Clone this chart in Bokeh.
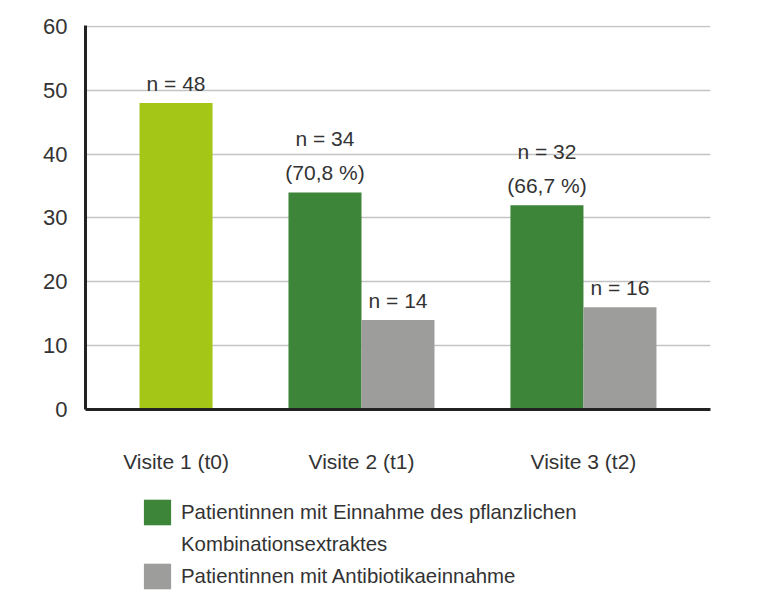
from bokeh.plotting import figure
from bokeh.layouts import column
from bokeh.models import FactorRange, ColumnDataSource, FixedTicker, Legend, LegendItem
from bokeh.core.properties import value
from bokeh.embed import file_html
from bokeh.resources import INLINE

# ---- data ----
visits = ["Visite 1 (t0)", "Visite 2 (t1)", "Visite 3 (t2)"]
extract_n = [48, 34, 32]
extract_pct = ["", "(70,8 %)", "(66,7 %)"]
antibiotic_visits = ["Visite 2 (t1)", "Visite 3 (t2)"]
antibiotic_n = [14, 16]
y_ticks = [0, 10, 20, 30, 40, 50, 60]
legend_lines_extract = ["Patientinnen mit Einnahme des pflanzlichen", "Kombinationsextraktes"]
legend_label_antibiotic = "Patientinnen mit Antibiotikaeinnahme"

# ---- styles ----
FONT = "Liberation Sans"
TEXT = "#333333"
LIME = "#a3c617"
GREEN = "#3d8538"
GREY = "#9d9d9c"
EXT, ANT = "ext", "ant"

factors = []
for v in visits:
    factors.append((v, EXT))
    if v in antibiotic_visits:
        factors.append((v, ANT))

p = figure(
    x_range=FactorRange(*factors, group_padding=1.04, range_padding=0.74,
                        range_padding_units="absolute"),
    y_range=(0, 60.15),
    width=751, height=490,
    output_backend="svg", toolbar_location=None,
    min_border_left=85, min_border_right=41, min_border_top=25, min_border_bottom=81,
)
p.outline_line_color = None
p.xgrid.grid_line_color = None
p.ygrid.grid_line_color = "#c4c4c4"
p.ygrid.grid_line_width = 1.5
p.ygrid.ticker = FixedTicker(ticks=y_ticks)

# y axis
p.yaxis.ticker = FixedTicker(ticks=y_ticks)
p.yaxis.axis_line_width = 3
p.yaxis.axis_line_color = "#222222"
p.yaxis.major_tick_line_color = None
p.yaxis.minor_tick_line_color = None
p.yaxis.major_tick_out = 0
p.yaxis.major_tick_in = 0
p.yaxis.major_label_standoff = 18
p.yaxis.major_label_text_font = FONT
p.yaxis.major_label_text_font_size = "22px"
p.yaxis.major_label_text_color = TEXT

# x axis
xa = p.xaxis[0]
xa.axis_line_width = 3
xa.axis_line_color = "#222222"
xa.major_tick_line_color = None
xa.major_tick_out = 0
xa.major_tick_in = 0
xa.major_label_text_alpha = 0
xa.major_label_text_font_size = "14px"
xa.major_label_standoff = 40
xa.separator_line_color = None
xa.group_text_font = FONT
xa.group_text_font_size = "21px"
xa.group_text_color = TEXT
xa.group_text_font_style = "normal"

# bars
base_src = ColumnDataSource(dict(x=[(visits[0], EXT)], top=extract_n[:1]))
ext_src = ColumnDataSource(dict(x=[(v, EXT) for v in visits[1:]], top=extract_n[1:]))
ant_src = ColumnDataSource(dict(x=[(v, ANT) for v in antibiotic_visits], top=antibiotic_n))

p.vbar(x="x", top="top", width=1.0, source=base_src, fill_color=LIME, line_color=None)
p.vbar(x="x", top="top", width=1.0, source=ext_src, fill_color=GREEN, line_color=None)
p.vbar(x="x", top="top", width=1.0, source=ant_src, fill_color=GREY, line_color=None)

# labels
ext_text = [f"n = {n}" + (f"\n{pct}" if pct else "") for n, pct in zip(extract_n, extract_pct)]
lab_src = ColumnDataSource(dict(
    x=[(v, EXT) for v in visits] + [(v, ANT) for v in antibiotic_visits],
    y=extract_n + antibiotic_n,
    text=ext_text + [f"n = {n}" for n in antibiotic_n],
))
p.text(x="x", y="y", text="text", source=lab_src, text_align="center",
       text_baseline="bottom", y_offset=-8, text_font=value(FONT),
       text_font_size="21px", text_color=TEXT, text_line_height=1.5)

# legend (own strip below the chart; frames of the column are aligned)
lg = figure(width=751, height=102, x_range=(0, 1), y_range=(0, 1),
            x_axis_type=None, y_axis_type=None, output_backend="svg",
            toolbar_location=None, min_border=0)
lg.outline_line_color = None
proxy = ColumnDataSource(dict(x=[-1.0], top=[0.0]))  # legend proxies, outside the view
r_green = lg.vbar(x="x", top="top", width=0.1, source=proxy, fill_color=GREEN, line_color=None)
r_blank = lg.vbar(x="x", top="top", width=0.1, source=proxy, fill_alpha=0, line_color=None)
r_grey = lg.vbar(x="x", top="top", width=0.1, source=proxy, fill_color=GREY, line_color=None)
legend = Legend(
    items=[LegendItem(label=legend_lines_extract[0], renderers=[r_green]),
           LegendItem(label=legend_lines_extract[1], renderers=[r_blank]),
           LegendItem(label=legend_label_antibiotic, renderers=[r_grey])],
    location=(55, 0), orientation="vertical", glyph_width=34, glyph_height=32,
    label_text_font=FONT, label_text_font_size="20.4px", label_text_color=TEXT,
    label_standoff=7, spacing=0, padding=0, margin=0,
    border_line_color=None, background_fill_alpha=0,
)
lg.add_layout(legend)

layout = column(p, lg, spacing=0)
open("out.html", "w").write(file_html(layout, INLINE))
